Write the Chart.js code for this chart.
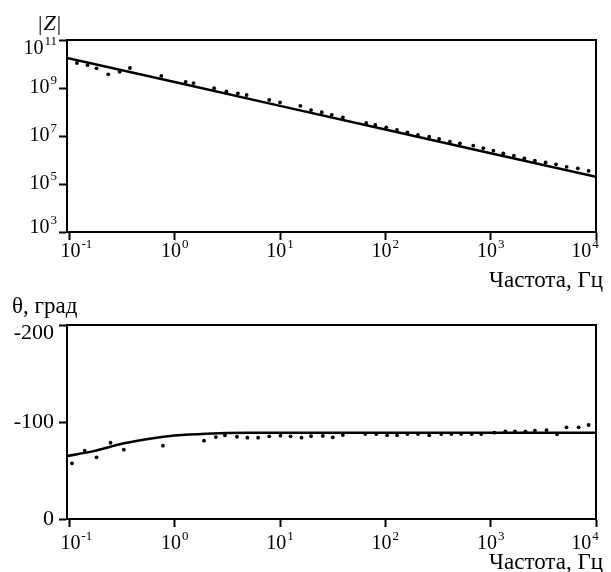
<!DOCTYPE html>
<html>
<head>
<meta charset="utf-8">
<script src="https://cdn.jsdelivr.net/npm/chart.js@4.4.1/dist/chart.umd.min.js"></script>
<style>
  html, body { margin: 0; padding: 0; background: #fff; }
  canvas { display: block; }
</style>
</head>
<body>
<canvas id="mag" width="611" height="292"></canvas>
<canvas id="phase" width="611" height="280"></canvas>
<script>
// measured points, |Z| (Ohm) vs frequency (Hz)
const freqMag = [0.118, 0.149, 0.181, 0.234, 0.30, 0.376, 0.747, 1.27, 1.51, 2.37, 3.1, 3.98, 4.82, 7.9, 10,
  15.6, 19.7, 24.9, 31, 39.5, 65.9, 80.3, 102, 129, 162, 204, 261, 324, 410, 510, 684, 851,
  1061, 1320, 1660, 2090, 2630, 3320, 4170, 5260, 6720, 8510];
const magPoints = [1.1e10, 8.9e9, 6.6e9, 3.7e9, 4.7e9, 6.8e9, 3.2e9, 1.8e9, 1.6e9, 9.8e8, 7.2e8, 6.0e8, 5.1e8, 3.2e8, 2.5e8,
  1.8e8, 1.2e8, 9.8e7, 7.6e7, 6.0e7, 3.5e7, 2.9e7, 2.3e7, 1.8e7, 1.4e7, 1.1e7, 9.3e6, 7.5e6, 5.8e6, 4.9e6, 4.0e6, 3.1e6,
  2.45e6, 1.9e6, 1.5e6, 1.17e6, 9.3e5, 7.9e5, 6.6e5, 5.2e5, 4.5e5, 3.5e5];

// fitted |Z|
const freqMagFit = [0.095, 1, 10, 100, 1000, 10000];
const magFit = [1.8e10, 1.78e9, 1.8e8, 1.86e7, 1.9e6, 2.0e5];

// measured phase angle (deg)
const freqPhase = [0.106, 0.14, 0.181, 0.246, 0.329, 0.774, 1.9, 2.46, 3.0, 3.9, 4.9, 6.2, 7.9, 10.1, 12.6,
  16, 19.7, 25.5, 31.7, 39.5, 64.5, 82, 104, 129, 162, 204, 261, 339, 424, 525, 661, 813,
  1084, 1380, 1700, 2140, 2630, 3390, 4270, 5250, 6840, 8510];
const phasePoints = [-57.4, -70.4, -63.6, -78.6, -71.5, -75.6, -80.7, -84.5, -86.3, -84.8, -83.8, -83.8, -85.2, -85.9, -85.2,
  -83.8, -85.4, -85.6, -84.2, -86.6, -87.6, -87.6, -86.3, -86.3, -87.6, -87.6, -86.3, -87.6, -87.6, -87.6, -87.6, -87.6,
  -89, -90.4, -90.4, -90.4, -91, -91.7, -87.3, -94.5, -94.5, -96.9];

// fitted phase
const freqPhaseFit = [0.095, 0.17, 0.33, 0.6, 1, 2, 5, 100, 10000];
const phaseFit = [-65, -70, -78, -83, -86, -88, -88.8, -88.8, -88.8];

// tick values
const freqTickExp = [-1, 0, 1, 2, 3, 4];
const magTickExp = [3, 5, 7, 9, 11];
const phaseTicks = [-200, -100, 0];

const SERIF = '"Liberation Serif", "Times New Roman", serif';
const BASE_FONT = '20px ' + SERIF;
const EXP_FONT = '13px ' + SERIF;
const TEXT_FONT = '23px ' + SERIF;

function pairs(xs, ys) {
  return xs.map((x, i) => ({ x: x, y: ys[i] }));
}

// "10" with a raised exponent; align = 'center' | 'right'
function drawPower(ctx, exp, x, y, align) {
  ctx.font = BASE_FONT;
  const wb = ctx.measureText('10').width;
  ctx.font = EXP_FONT;
  const we = ctx.measureText(String(exp)).width;
  const w = wb + we + 1;
  let left = align === 'right' ? x - w : x - w / 2;
  ctx.textAlign = 'left';
  ctx.textBaseline = 'middle';
  ctx.font = BASE_FONT;
  ctx.fillText('10', left, y);
  ctx.font = EXP_FONT;
  ctx.fillText(String(exp), left + wb + 1, y - 7);
  return w;
}

function frameAndXLabels(chart, xLabelDy, titleY) {
  const ctx = chart.ctx;
  const a = chart.chartArea;
  const xs = chart.scales.x;
  ctx.save();
  ctx.strokeStyle = '#000';
  ctx.lineWidth = 2;
  ctx.strokeRect(a.left, a.top, a.right - a.left, a.bottom - a.top);
  ctx.fillStyle = '#000';
  freqTickExp.forEach((e, i) => {
    let px = xs.getPixelForValue(Math.pow(10, e));
    if (i === 0) px += 7;
    if (i === freqTickExp.length - 1) px -= 11;
    drawPower(ctx, e, px, a.bottom + xLabelDy, 'center');
  });
  ctx.font = TEXT_FONT;
  ctx.textAlign = 'right';
  ctx.textBaseline = 'middle';
  ctx.fillText('Частота, Гц', 603, titleY);
  ctx.restore();
}

const axisGrid = {
  drawOnChartArea: false,
  drawTicks: true,
  tickLength: 8,
  tickColor: '#000',
  tickWidth: 2,
  color: '#000'
};

const magLabels = {
  id: 'magLabels',
  afterDraw(chart) {
    const ctx = chart.ctx;
    const a = chart.chartArea;
    const ys = chart.scales.y;
    frameAndXLabels(chart, 20, 281);
    ctx.save();
    ctx.fillStyle = '#000';
    magTickExp.forEach((e, i) => {
      let py = ys.getPixelForValue(Math.pow(10, e));
      if (i === magTickExp.length - 1) py += 9;
      if (i === 0) py -= 4;
      drawPower(ctx, e, a.left - 10, py, 'right');
    });
    // |Z| axis name
    ctx.textBaseline = 'middle';
    ctx.textAlign = 'left';
    ctx.font = '22px ' + SERIF;
    const bar = ctx.measureText('|').width;
    ctx.fillText('|', 38, 24);
    ctx.font = 'italic 22px ' + SERIF;
    const wz = ctx.measureText('Z').width;
    ctx.fillText('Z', 38 + bar + 1, 24);
    ctx.font = '22px ' + SERIF;
    ctx.fillText('|', 38 + bar + wz + 2, 24);
    ctx.restore();
  }
};

const phaseLabels = {
  id: 'phaseLabels',
  afterDraw(chart) {
    const ctx = chart.ctx;
    const a = chart.chartArea;
    const ys = chart.scales.y;
    frameAndXLabels(chart, 25, 271);
    ctx.save();
    ctx.fillStyle = '#000';
    ctx.font = '22px ' + SERIF;
    ctx.textAlign = 'right';
    ctx.textBaseline = 'middle';
    phaseTicks.forEach((v, i) => {
      let py = ys.getPixelForValue(v);
      if (i === 0) py += 8;
      ctx.fillText(String(v), a.left - 13, py);
    });
    ctx.font = TEXT_FONT;
    ctx.textAlign = 'left';
    ctx.fillText('θ, град', 12, 15);
    ctx.restore();
  }
};

const commonOptions = {
  responsive: false,
  animation: false,
  devicePixelRatio: 1,
  plugins: { legend: { display: false }, tooltip: { enabled: false } }
};

const xScale = (height) => ({
  type: 'logarithmic',
  min: 0.095,
  max: 10000,
  afterBuildTicks: s => { s.ticks = freqTickExp.map(e => ({ value: Math.pow(10, e) })); },
  afterFit: s => { s.height = height; },
  ticks: { display: false },
  grid: axisGrid,
  border: { color: '#000', width: 2 }
});

new Chart(document.getElementById('mag'), {
  type: 'scatter',
  data: {
    datasets: [
      {
        data: pairs(freqMagFit, magFit),
        showLine: true,
        borderColor: '#000',
        borderWidth: 2.5,
        pointRadius: 0
      },
      {
        data: pairs(freqMag, magPoints),
        showLine: false,
        pointRadius: 1.9,
        pointBackgroundColor: '#000',
        pointBorderWidth: 0
      }
    ]
  },
  options: {
    ...commonOptions,
    layout: { padding: { left: 0, right: 15, top: 40, bottom: 0 } },
    scales: {
      x: xScale(60),
      y: {
        type: 'logarithmic',
        min: 1e3,
        max: 1e11,
        afterBuildTicks: s => { s.ticks = magTickExp.map(e => ({ value: Math.pow(10, e) })); },
        afterFit: s => { s.width = 67; },
        ticks: { display: false },
        grid: axisGrid,
        border: { color: '#000', width: 2 }
      }
    }
  },
  plugins: [magLabels]
});

new Chart(document.getElementById('phase'), {
  type: 'scatter',
  data: {
    datasets: [
      {
        data: pairs(freqPhaseFit, phaseFit),
        showLine: true,
        cubicInterpolationMode: 'monotone',
        borderColor: '#000',
        borderWidth: 2.5,
        pointRadius: 0
      },
      {
        data: pairs(freqPhase, phasePoints),
        showLine: false,
        pointRadius: 1.9,
        pointBackgroundColor: '#000',
        pointBorderWidth: 0
      }
    ]
  },
  options: {
    ...commonOptions,
    layout: { padding: { left: 0, right: 15, top: 33, bottom: 0 } },
    scales: {
      x: xScale(53),
      y: {
        type: 'linear',
        min: -200,
        max: 0,
        reverse: true,
        afterBuildTicks: s => { s.ticks = phaseTicks.map(v => ({ value: v })); },
        afterFit: s => { s.width = 67; },
        ticks: { display: false },
        grid: axisGrid,
        border: { color: '#000', width: 2 }
      }
    }
  },
  plugins: [phaseLabels]
});
</script>
</body>
</html>
